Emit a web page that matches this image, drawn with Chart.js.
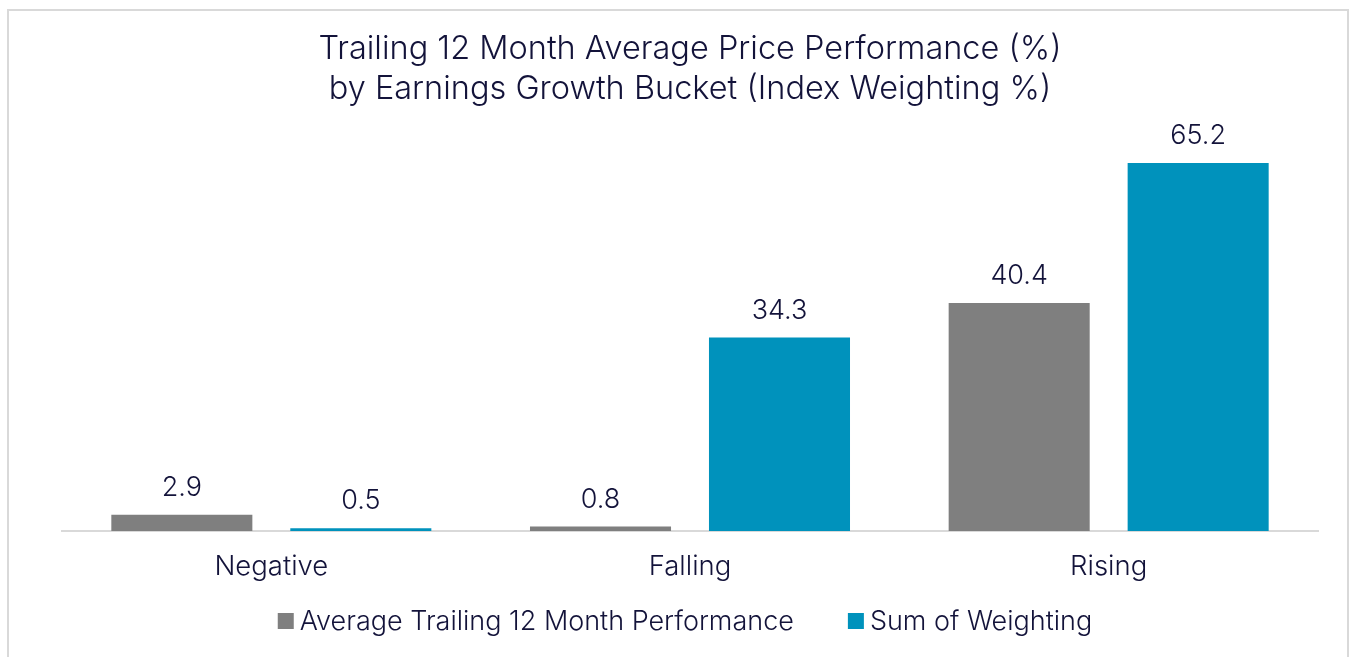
<!DOCTYPE html>
<html>
<head>
<meta charset="utf-8">
<script src="https://cdn.jsdelivr.net/npm/chart.js@4"></script>
<style>
  html, body { margin: 0; padding: 0; background: #ffffff; }
  #wrap { position: relative; width: 1354px; height: 657px; overflow: hidden; }
  #frame { position: absolute; left: 7px; top: 9px; width: 1342px; height: 700px; border: 2px solid #d9d9d9; box-sizing: border-box; pointer-events: none; }
  canvas { position: absolute; left: 0; top: 0; }
</style>
</head>
<body>
<div id="wrap">
  <canvas id="c" width="1354" height="657"></canvas>
  <div id="frame"></div>
</div>
<script>
const categories = ["Negative", "Falling", "Rising"];
const avgPerformance = [2.9, 0.8, 40.4];
const sumWeighting = [0.5, 34.3, 65.2];
const seriesNames = ["Average Trailing 12 Month Performance", "Sum of Weighting"];
const seriesColors = ["#7f7f7f", "#0092bc"];
const titleLines = ["Trailing 12 Month Average Price Performance (%)", "by Earnings Growth Bucket (Index Weighting %)"];

const TEXT = '#13133a';
const FONT = 'Inter, "Noto Sans", sans-serif';
const W = '300';

const valueLabels = {
  id: 'valueLabels',
  afterDatasetsDraw(chart) {
    const ctx = chart.ctx;
    ctx.save();
    ctx.font = W + ' 27px ' + FONT;
    ctx.fillStyle = TEXT;
    ctx.textAlign = 'center';
    ctx.textBaseline = 'middle';
    chart.data.datasets.forEach((ds, i) => {
      chart.getDatasetMeta(i).data.forEach((bar, j) => {
        ctx.fillText(ds.data[j].toFixed(1), bar.x, bar.y - 27);
      });
    });
    ctx.restore();
  }
};

const customLegend = {
  id: 'customLegend',
  afterDraw(chart) {
    const ctx = chart.ctx;
    ctx.save();
    ctx.font = W + ' 27px ' + FONT;
    ctx.textBaseline = 'middle';
    ctx.textAlign = 'left';
    const box = 16, gap = 6, itemGap = 54, cy = 621;
    const widths = chart.data.datasets.map(ds => box + gap + ctx.measureText(ds.label).width);
    const total = widths.reduce((a, b) => a + b, 0) + itemGap * (widths.length - 1);
    let x = (chart.chartArea.left + chart.chartArea.right) / 2 - 5 - total / 2;
    chart.data.datasets.forEach((ds, i) => {
      ctx.fillStyle = ds.backgroundColor;
      ctx.fillRect(x, cy - box / 2, box, box);
      ctx.fillStyle = TEXT;
      ctx.fillText(ds.label, x + box + gap, cy + 1);
      x += widths[i] + itemGap;
    });
    ctx.restore();
  }
};

new Chart(document.getElementById('c'), {
  type: 'bar',
  data: {
    labels: categories,
    datasets: [
      { label: seriesNames[0], data: avgPerformance, backgroundColor: seriesColors[0] },
      { label: seriesNames[1], data: sumWeighting, backgroundColor: seriesColors[1] }
    ]
  },
  plugins: [valueLabels, customLegend],
  options: {
    responsive: false,
    animation: false,
    devicePixelRatio: 1,
    categoryPercentage: 0.855,
    barPercentage: 0.788,
    layout: { padding: { left: 62, right: 36, top: 0, bottom: 55 } },
    plugins: {
      title: {
        display: true,
        text: titleLines,
        color: TEXT,
        font: { family: FONT, size: 32.5, weight: W, lineHeight: 1.23 },
        padding: { top: 29, bottom: 27 }
      },
      legend: { display: false },
      tooltip: { enabled: false }
    },
    scales: {
      x: {
        grid: { display: false, drawTicks: false },
        border: { display: true, color: '#d9d9d9', width: 2 },
        ticks: { color: TEXT, font: { family: FONT, size: 27.5, weight: W, lineHeight: 1.2 }, padding: 19 }
      },
      y: {
        display: false,
        min: 0,
        max: 70
      }
    }
  }
});
</script>
</body>
</html>
